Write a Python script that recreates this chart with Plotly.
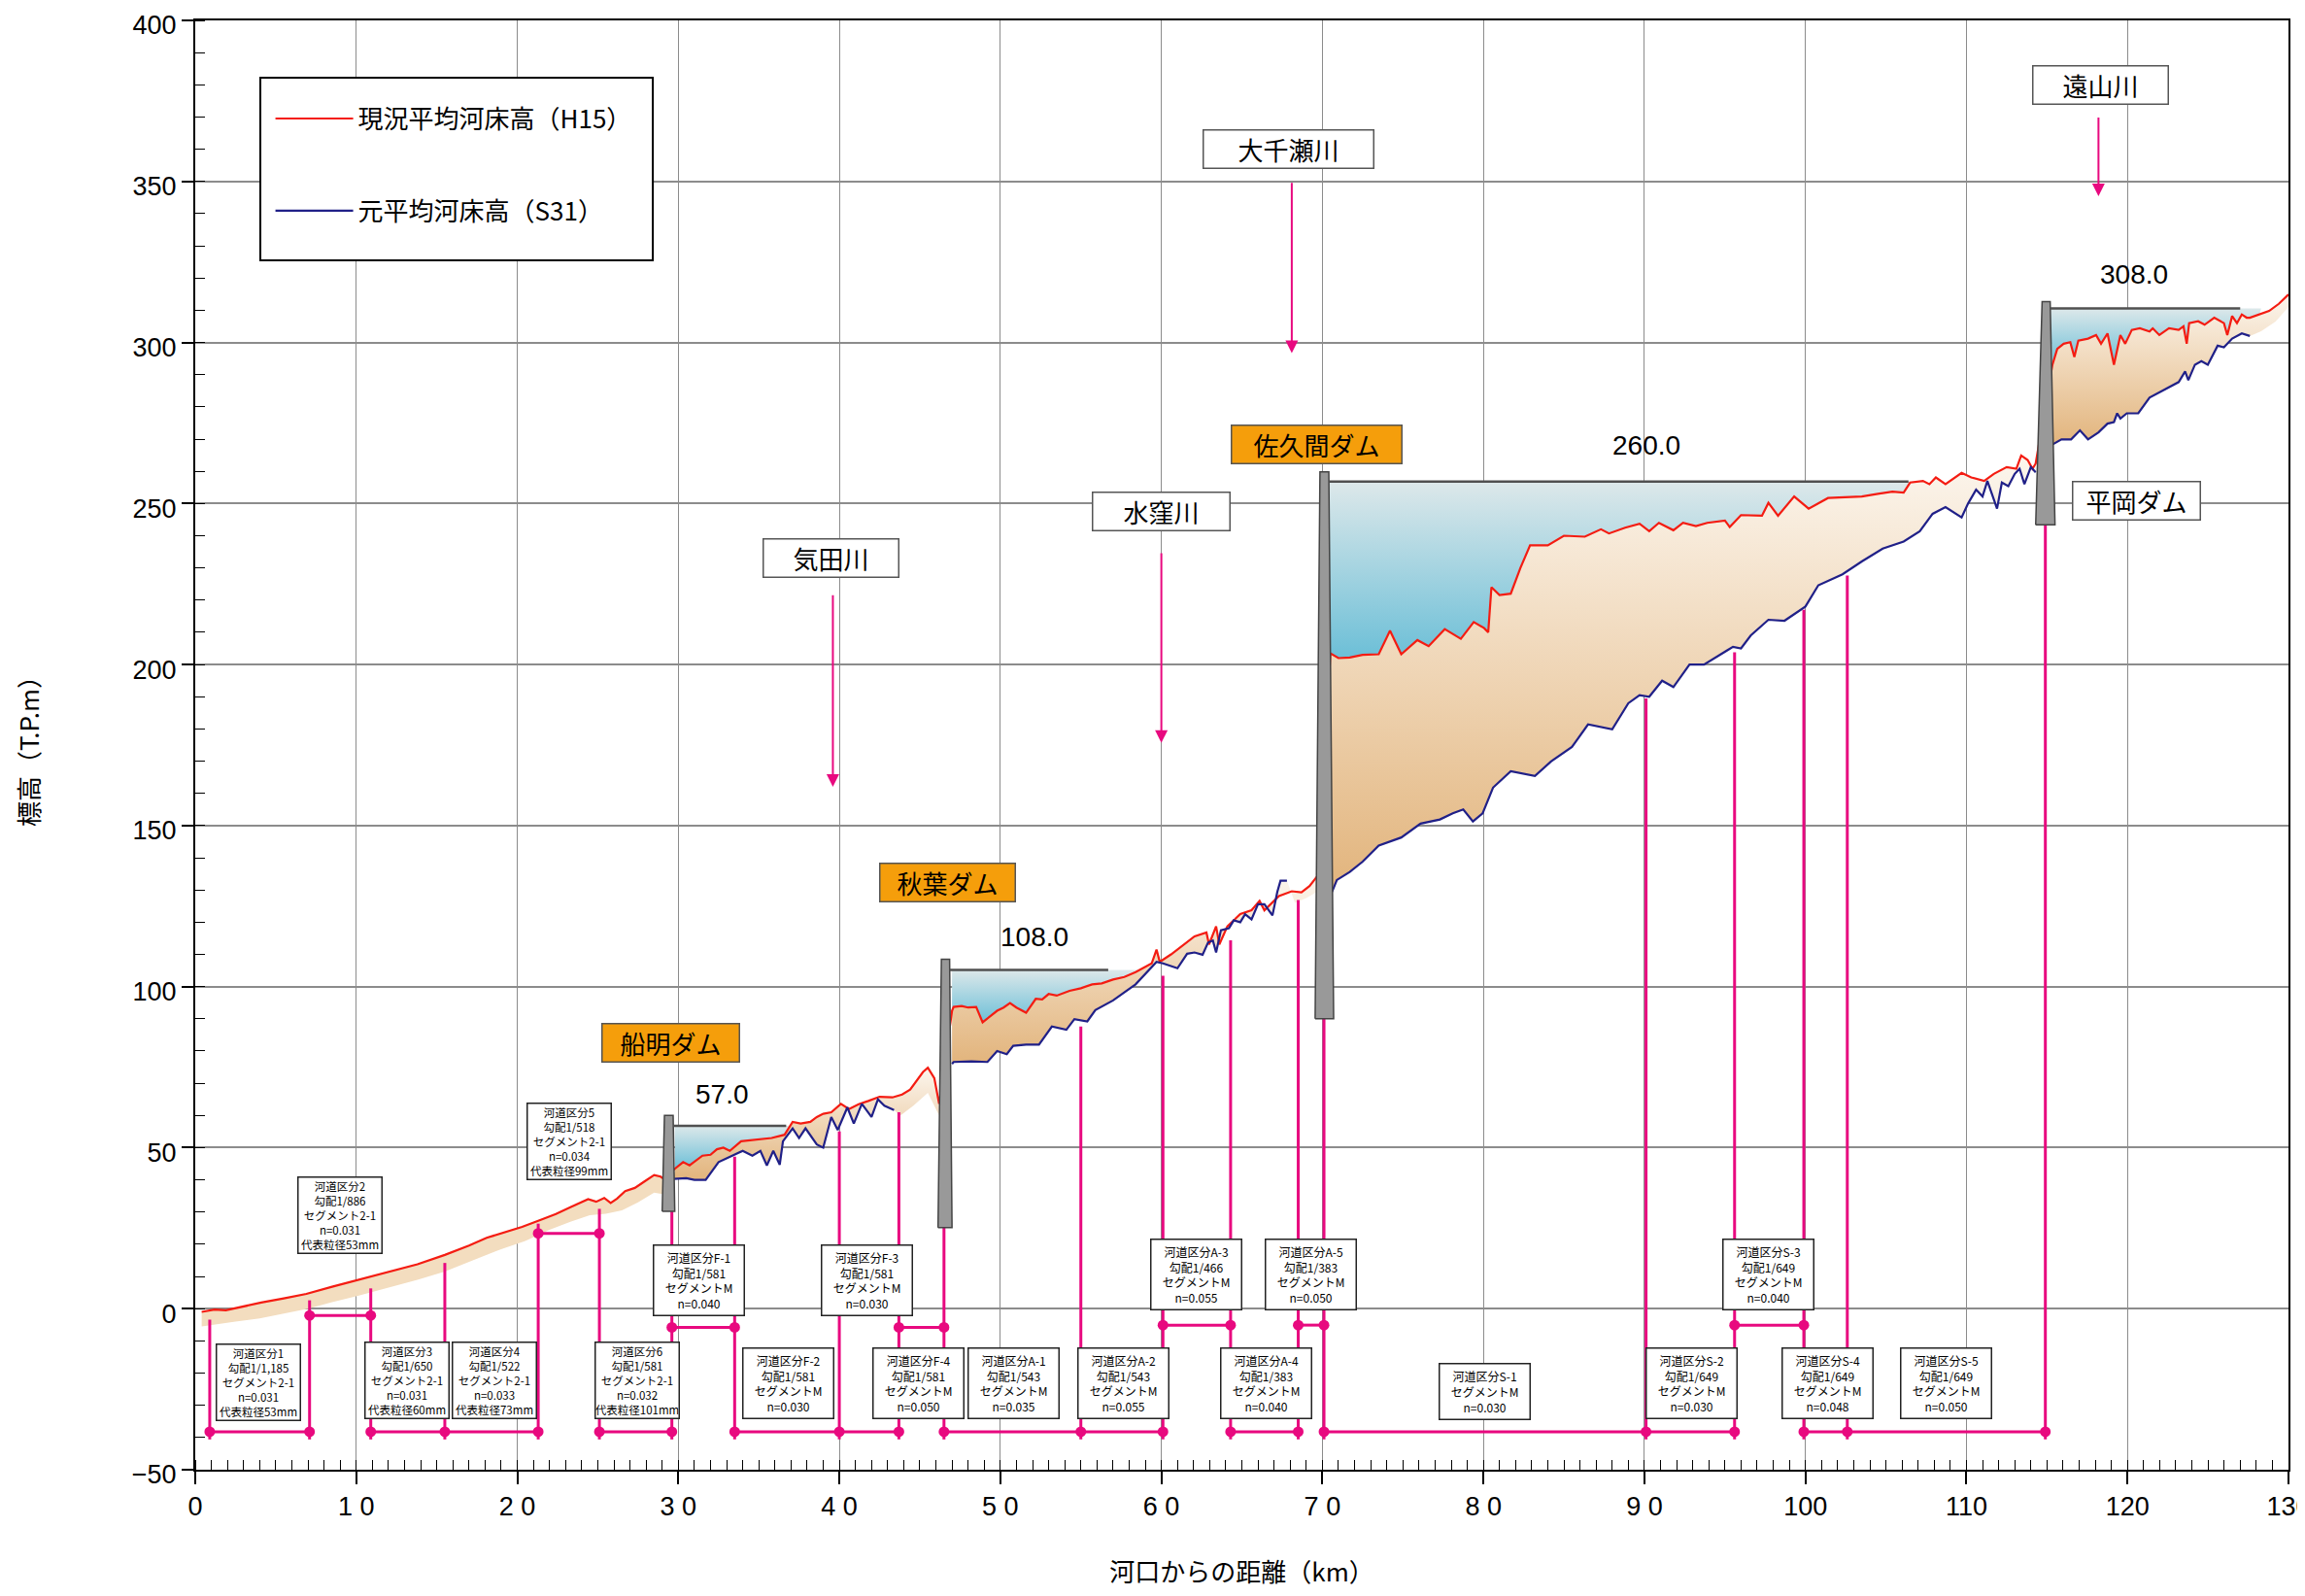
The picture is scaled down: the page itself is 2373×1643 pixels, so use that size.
import plotly.graph_objects as go

# ---------------- data ----------------
RED_X = [0.4, 1.2, 1.9, 3.0, 4.1, 5.5, 6.9, 8.5, 10.1, 12.0, 13.8, 15.5, 17.0, 18.1, 19.2, 20.3, 21.3, 22.4, 23.3,
         24.1, 24.4, 24.9, 25.4, 25.8, 26.2, 26.7, 27.3, 27.9, 28.5, 28.9, 29.1,
         29.8, 30.3, 30.7, 31.2, 31.5, 32.0, 32.4, 32.8, 33.2, 33.9, 34.5, 35.2, 35.8, 36.6, 37.1, 37.6, 38.2, 38.6,
         39.0, 39.5, 40.1, 40.6, 41.2, 41.8, 42.5, 43.3, 43.9, 44.4, 44.8, 45.2, 45.5, 45.9, 46.2,
         47.0, 47.1, 47.6, 48.0, 48.5, 48.9, 49.3, 49.8, 50.2, 50.6, 51.0, 51.6, 52.2, 52.6, 53.0, 53.5, 54.3, 55.0,
         55.7, 56.3, 57.0, 57.7, 58.4, 59.0, 59.4, 59.7, 59.9, 60.6, 61.3, 62.06, 62.8, 62.96, 63.4, 63.6, 64.1,
         64.9, 65.6, 66.1, 66.4, 66.9, 67.3, 68.1, 68.7, 69.2, 69.7,
         70.5, 71.0, 71.7, 72.5, 73.5, 74.2, 74.9, 75.9, 76.6, 77.6, 78.6, 79.4, 80.05, 80.3, 80.5, 81.0, 81.7, 82.3,
         82.9, 84.0, 85.0, 86.3, 87.3, 87.8, 88.8, 89.7, 90.3, 90.9, 91.8, 92.4, 93.2, 93.9, 95.0, 95.3, 96.0, 97.3,
         97.7, 98.3, 99.3, 100.2, 101.4, 102.5, 103.5, 104.5, 105.4, 106.1, 106.5, 107.3, 107.7, 108.1, 108.7, 109.7,
         110.3, 111.1, 111.7, 112.5, 113.1, 113.4, 113.8, 114.1, 114.3,
         115.34, 115.64, 116.04, 116.45, 116.7, 116.95, 117.55, 118.05, 118.36, 118.76, 119.16, 119.56, 119.86,
         120.27, 120.77, 121.37, 121.57, 121.98, 122.58, 123.18, 123.48, 123.68, 123.83, 124.39, 124.79, 125.39,
         125.99, 126.2, 126.5, 126.8, 127.1, 127.4, 127.6, 128.2, 128.8, 129.4, 130.0]
RED_Y = [-1.0, -0.3, -0.5, 0.8, 1.9, 3.2, 4.6, 6.8, 8.9, 11.3, 13.8, 16.7, 19.6, 22.0, 23.8, 25.4, 27.3, 29.4, 31.5,
         33.5, 34.0, 33.2, 34.4, 32.8, 34.2, 36.5, 37.5, 39.5, 41.5, 41.0, 40.3,
         43.5, 45.5, 44.5, 46.5, 47.5, 47.8, 49.5, 50.0, 49.0, 52.0, 52.3, 52.5, 53.0, 54.0, 58.0, 57.5, 58.0, 59.5,
         60.5, 61.0, 63.6, 62.0, 63.5, 64.5, 65.8, 65.6, 66.5, 68.0, 70.6, 73.5, 74.8, 71.6, 63.6,
         92.5, 93.7, 94.0, 93.5, 93.7, 88.9, 90.5, 92.5, 93.5, 94.9, 93.5, 91.9, 96.2, 96.0, 97.7, 97.2, 98.7, 99.5,
         100.7, 101.0, 102.2, 103.0, 104.5, 106.0, 107.2, 111.5, 107.7, 110.0, 112.8, 115.6, 116.8, 113.1, 118.7, 113.1, 118.7,
         122.5, 123.7, 126.6, 123.7, 126.2, 128.1, 129.6, 129.3, 131.2, 134.4,
         203.5, 202.0, 202.2, 203.0, 203.2, 210.5, 203.2, 207.6, 205.7, 211.0, 208.0, 213.2, 211.3, 210.0, 224.0, 221.6, 222.0, 230.0,
         237.0, 237.0, 240.0, 239.7, 242.0, 240.7, 242.5, 243.7, 241.4, 244.0, 241.7, 244.0, 243.0, 244.0, 244.7, 242.7, 246.4, 246.2,
         250.2, 246.2, 252.2, 248.4, 251.7, 252.0, 252.2, 253.0, 253.7, 253.4, 256.5, 257.0, 256.0, 258.1, 256.0, 259.5,
         258.1, 257.0, 259.2, 261.3, 260.8, 264.9, 263.5, 260.8, 262.4,
         293.1, 298.0, 299.6, 300.1, 295.5, 300.6, 301.2, 302.3, 299.6, 302.8, 293.1, 302.3, 299.6,
         303.9, 304.4, 303.4, 304.4, 302.3, 304.4, 303.9, 305.0, 299.6, 306.0, 306.6, 305.5, 307.7,
         306.0, 302.3, 308.2, 306.0, 308.7, 307.7, 307.7, 308.7, 309.8, 312.0, 314.9]

BLUE_F_X = [29.7, 30.5, 31.0, 31.7, 32.5, 33.4, 34.0, 34.6, 35.1, 35.5, 35.9, 36.3, 36.5, 37.1, 37.5, 37.9, 38.6, 39.0,
            39.5, 39.9, 40.5, 40.9, 41.4, 42.0, 42.4, 42.8, 43.4]
BLUE_F_Y = [40.3, 40.5, 40.0, 40.0, 45.5, 47.5, 49.0, 47.5, 49.0, 44.5, 49.0, 44.7, 52.0, 56.0, 53.0, 56.0, 51.0, 50.0,
            59.5, 55.5, 62.5, 57.5, 63.6, 59.5, 65.0, 63.0, 61.7]
BLUE_A_X = [47.0, 47.1, 48.2, 49.2, 49.8, 50.4, 50.8, 51.6, 52.4, 53.2, 54.1, 54.6, 55.4, 55.9, 57.0, 58.4, 59.7, 60.1,
            61.0, 61.6, 62.06, 62.56, 62.9, 63.2, 63.4, 63.7, 64.2, 64.5, 64.9, 65.2, 65.6, 66.0, 66.4, 66.7, 66.9,
            67.2, 67.4, 67.8]
BLUE_A_Y = [76.0, 76.6, 76.8, 76.6, 80.0, 79.0, 81.6, 82.0, 82.0, 87.6, 86.6, 89.9, 89.2, 92.7, 95.7, 100.7, 107.7, 107.2,
            105.7, 110.2, 110.6, 109.9, 113.7, 114.3, 110.6, 117.5, 118.1, 120.6, 120.0, 122.5, 120.9, 125.6, 125.6, 123.7, 122.1,
            129.4, 132.9, 132.9]
BLUE_S_X = [70.6, 70.9, 71.7, 72.5, 73.5, 74.9, 76.1, 77.3, 78.1, 78.75, 79.35, 79.95, 80.6, 81.7, 83.2, 84.2, 85.5,
            86.5, 88.0, 89.0, 89.7, 90.3, 91.1, 91.8, 92.8, 93.7, 95.5, 96.0, 96.6, 97.7, 98.7, 100.0, 100.8, 102.3,
            103.5, 104.8, 106.1, 107.1, 107.9, 108.7, 109.7, 110.1, 110.6, 111.0, 111.3, 111.9, 112.2, 112.6, 113.0,
            113.3, 113.6, 114.0, 114.3]
BLUE_S_Y = [129.4, 133.1, 135.6, 138.8, 143.8, 146.3, 150.6, 151.9, 153.8, 155.0, 151.3, 153.8, 161.8, 166.9, 165.4, 169.9, 174.4,
            181.4, 179.9, 188.0, 190.5, 190.0, 195.0, 193.0, 200.0, 200.0, 205.5, 205.0, 209.0, 213.9, 213.6, 218.0, 224.6, 228.0,
            232.0, 236.0, 238.2, 241.4, 246.8, 248.9, 245.7, 250.0, 254.3, 252.2, 257.0, 248.4, 256.5, 255.4, 259.2,
            260.8, 256.0, 261.3, 259.7]
BLUE_H_X = [115.34, 115.9, 116.5, 117.05, 117.55, 118.2, 118.76, 119.16, 119.36, 119.56, 119.96, 120.67, 121.37, 122.18,
            122.78, 123.18, 123.58, 123.78, 124.19, 124.59, 124.99, 125.6, 125.99, 126.5, 127.1, 127.6]
BLUE_H_Y = [268.3, 269.9, 269.9, 272.7, 269.9, 272.1, 274.8, 275.3, 278.0, 276.4, 278.0, 278.0, 282.9, 285.0,
            286.7, 287.7, 291.0, 288.3, 293.1, 294.2, 293.1, 299.0, 298.5, 301.2, 302.8, 302.0]

# sediment band bottoms where no old-bed line exists
BAND_LOW_X = [29.1, 28.5, 27.5, 26.5, 25.5, 24.5, 23.3, 22.0, 20.5, 19.0, 17.5, 15.5, 13.8, 12.0, 10.1, 8.5, 7.0, 5.5, 4.0, 2.5, 1.2, 0.4]
BAND_LOW_Y = [35.5, 36.0, 33.0, 30.5, 29.5, 29.0, 27.0, 24.5, 21.0, 18.5, 15.5, 11.5, 9.0, 6.5, 4.0, 2.0, 0.0, -1.5, -3.0, -4.0, -5.0, -5.5]
FUNA_TAIL_X = [46.2, 45.5, 44.6, 43.8]
FUNA_TAIL_Y = [60.0, 67.0, 63.0, 60.0]
AKI_TAIL_X = [69.7, 69.0, 68.3]
AKI_TAIL_Y = [129.5, 127.5, 126.0]
HIRA_TAIL_X = [130.0, 129.2, 128.3]
HIRA_TAIL_Y = [311.0, 306.5, 303.5]

# reservoirs
DAM_NAMES = ["船明ダム", "秋葉ダム", "佐久間ダム", "平岡ダム"]
WATER_LEVEL = [56.8, 105.2, 256.8, 310.6]
WATER_START = [29.78, 47.0, 70.4, 115.2]
WATER_LINE_END = [36.7, 56.7, 106.4, 127.0]
WATER_FILL_END = [36.9, 58.7, 107.2, 128.3]
LEVEL_LABELS = ["57.0", "108.0", "260.0", "308.0"]
LEVEL_LABEL_X = [32.7, 52.1, 90.1, 120.4]
LEVEL_LABEL_Y = [66.6, 115.5, 268.0, 321.0]

DAM_BASE_L = [29.0, 46.13, 69.55, 114.3]
DAM_BASE_R = [29.78, 47.0, 70.7, 115.5]
DAM_TOP_L = [29.14, 46.34, 69.85, 114.7]
DAM_TOP_R = [29.68, 46.85, 70.4, 115.2]
DAM_BOTTOM = [30.2, 25.2, 90.0, 243.4]
DAM_CREST = [60.0, 108.5, 259.8, 312.7]
DAM_LABEL_X = [29.55, 46.7, 69.65, 120.55]
DAM_LABEL_Y = [82.5, 132.4, 268.5, 251.0]

TRIB_NAMES = ["気田川", "水窪川", "大千瀬川", "遠山川"]
TRIB_X = [39.5, 60.0, 67.9, 118.3]
TRIB_LABEL_Y = [233.0, 247.4, 360.0, 380.0]
TRIB_ARROW_X = [39.6, 60.0, 68.1, 118.2]
TRIB_ARROW_FROM = [222.0, 235.0, 350.0, 370.3]
TRIB_ARROW_TO = [162.0, 175.7, 296.7, 345.4]

# river section division diagram
PINK_V_X = [0.9, 7.1, 10.9, 15.5, 21.3, 25.1, 29.6, 33.5, 40.0, 43.7, 46.5, 55.0, 60.1, 64.3, 68.5, 70.1, 90.1, 95.6, 99.9, 102.6, 114.9]
PINK_V_TOP = [-3.4, 2.6, 6.3, 14.2, 26.4, 31.0, 30.2, 47.2, 55.0, 61.0, 25.2, 87.6, 103.4, 114.4, 126.9, 90.0, 189.5, 203.8, 217.0, 227.6, 243.4]
PINK_BASE_Y = -38.2
PINK_BOTTOM_SEG = [(0.9, 7.1), (10.9, 21.3), (25.1, 29.6), (33.5, 43.7), (46.5, 60.1), (64.3, 68.5), (70.1, 95.6), (99.9, 114.9)]
PINK_UPPER_SEG = [(7.1, 10.9, -2.1), (21.3, 25.1, 23.4), (29.6, 33.5, -5.8), (43.7, 46.5, -5.8),
                  (60.1, 64.3, -5.1), (68.5, 70.1, -5.1), (95.6, 99.9, -5.1)]

SEC_TEXT = [
    "河道区分1<br>勾配1/1,185<br>セグメント2-1<br>n=0.031<br>代表粒径53mm",
    "河道区分2<br>勾配1/886<br>セグメント2-1<br>n=0.031<br>代表粒径53mm",
    "河道区分3<br>勾配1/650<br>セグメント2-1<br>n=0.031<br>代表粒径60mm",
    "河道区分4<br>勾配1/522<br>セグメント2-1<br>n=0.033<br>代表粒径73mm",
    "河道区分5<br>勾配1/518<br>セグメント2-1<br>n=0.034<br>代表粒径99mm",
    "河道区分6<br>勾配1/581<br>セグメント2-1<br>n=0.032<br>代表粒径101mm",
    "河道区分F-1<br>勾配1/581<br>セグメントM<br>n=0.040",
    "河道区分F-2<br>勾配1/581<br>セグメントM<br>n=0.030",
    "河道区分F-3<br>勾配1/581<br>セグメントM<br>n=0.030",
    "河道区分F-4<br>勾配1/581<br>セグメントM<br>n=0.050",
    "河道区分A-1<br>勾配1/543<br>セグメントM<br>n=0.035",
    "河道区分A-2<br>勾配1/543<br>セグメントM<br>n=0.055",
    "河道区分A-3<br>勾配1/466<br>セグメントM<br>n=0.055",
    "河道区分A-4<br>勾配1/383<br>セグメントM<br>n=0.040",
    "河道区分A-5<br>勾配1/383<br>セグメントM<br>n=0.050",
    "河道区分S-1<br>セグメントM<br>n=0.030",
    "河道区分S-2<br>勾配1/649<br>セグメントM<br>n=0.030",
    "河道区分S-3<br>勾配1/649<br>セグメントM<br>n=0.040",
    "河道区分S-4<br>勾配1/649<br>セグメントM<br>n=0.048",
    "河道区分S-5<br>勾配1/649<br>セグメントM<br>n=0.050",
]
SEC_X = [3.95, 9.0, 13.15, 18.55, 23.2, 27.45, 31.3, 36.8, 41.7, 44.9, 50.8, 57.65, 62.15, 66.5, 69.3,
         80.1, 92.95, 97.7, 101.35, 108.75]
SEC_Y = [-23.0, 28.9, -22.1, -22.1, 52.0, -22.1, 8.9, -23.3, 8.9, -23.3, -23.3, -23.3, 10.6, -23.3, 10.6,
         -25.6, -23.3, 10.6, -23.3, -23.3]

X_TICKS = list(range(0, 131, 10))
X_TICK_TEXT = ["0", "1 0", "2 0", "3 0", "4 0", "5 0", "6 0", "7 0", "8 0", "9 0", "100", "110", "120", "130"]

# ---------------- styles ----------------
RED = "#F41C12"
BLUE = "#202088"
PINK = "#E8097F"
NUM_FONT = "Liberation Sans, Arial, Noto Sans CJK JP"
JP_FONT = "Noto Sans CJK JP, Liberation Sans"
SED_SCALE = [[0, "#E2B47C"], [1, "#FCF6EE"]]
WATER_SCALE = [[0, "#6CBFD7"], [1, "#DDE8EA"]]


def seg(xs, ys, a, b):
    px, py = [], []
    for x, y in zip(xs, ys):
        if x is not None and a <= x <= b:
            px.append(x)
            py.append(y)
    return px, py


fig = go.Figure()

# sediment fills
sed_polys = []
tx, ty = seg(RED_X, RED_Y, 0.0, 29.2)
sed_polys.append((tx + BAND_LOW_X, ty + BAND_LOW_Y))
tx, ty = seg(RED_X, RED_Y, 29.7, 46.3)
sed_polys.append((tx + FUNA_TAIL_X + BLUE_F_X[::-1], ty + FUNA_TAIL_Y + BLUE_F_Y[::-1]))
tx, ty = seg(RED_X, RED_Y, 46.9, 69.8)
sed_polys.append((tx + AKI_TAIL_X + BLUE_A_X[::-1], ty + AKI_TAIL_Y + BLUE_A_Y[::-1]))
tx, ty = seg(RED_X, RED_Y, 70.4, 114.4)
sed_polys.append((tx + BLUE_S_X[::-1], ty + BLUE_S_Y[::-1]))
tx, ty = seg(RED_X, RED_Y, 115.3, 130.0)
sed_polys.append((tx + HIRA_TAIL_X + BLUE_H_X[::-1], ty + HIRA_TAIL_Y + BLUE_H_Y[::-1]))

for i, (px, py) in enumerate(sed_polys):
    if i == 0:
        fig.add_trace(go.Scatter(x=px, y=py, mode="lines", fill="toself", fillcolor="#F3DDBF",
                                 line=dict(width=0), hoverinfo="skip", showlegend=False))
    else:
        fig.add_trace(go.Scatter(x=px, y=py, mode="lines", fill="toself",
                                 fillgradient=dict(type="vertical", colorscale=SED_SCALE),
                                 line=dict(width=0), hoverinfo="skip", showlegend=False))

# water fills
for lvl, a, b in zip(WATER_LEVEL, WATER_START, WATER_FILL_END):
    rx, ry = seg(RED_X, RED_Y, a, b)
    px = [a, b] + rx[::-1]
    py = [lvl, lvl] + ry[::-1]
    fig.add_trace(go.Scatter(x=px, y=py, mode="lines", fill="toself",
                             fillgradient=dict(type="vertical", colorscale=WATER_SCALE),
                             line=dict(width=0), hoverinfo="skip", showlegend=False))

# pink division diagram
lx, ly = [], []
for x, top in zip(PINK_V_X, PINK_V_TOP):
    lx += [x, x, None]
    ly += [top, -40.6, None]
for a, b in PINK_BOTTOM_SEG:
    lx += [a, b, None]
    ly += [PINK_BASE_Y, PINK_BASE_Y, None]
for a, b, yv in PINK_UPPER_SEG:
    lx += [a, b, None]
    ly += [yv, yv, None]
fig.add_trace(go.Scatter(x=lx, y=ly, mode="lines", line=dict(color=PINK, width=3),
                         hoverinfo="skip", showlegend=False))
dx = list(PINK_V_X) + [v for s in PINK_UPPER_SEG for v in (s[0], s[1])]
dy = [PINK_BASE_Y] * len(PINK_V_X) + [v for s in PINK_UPPER_SEG for v in (s[2], s[2])]
fig.add_trace(go.Scatter(x=dx, y=dy, mode="markers", marker=dict(color=PINK, size=11),
                         hoverinfo="skip", showlegend=False))

# bed lines
fig.add_trace(go.Scatter(x=RED_X, y=RED_Y, mode="lines", line=dict(color=RED, width=2.2),
                         name="現況平均河床高（H15）", legendgroup="a"))
bx = BLUE_F_X + [None] + BLUE_A_X + [None] + BLUE_S_X + [None] + BLUE_H_X
by = BLUE_F_Y + [None] + BLUE_A_Y + [None] + BLUE_S_Y + [None] + BLUE_H_Y
fig.add_trace(go.Scatter(x=bx, y=by, mode="lines", line=dict(color=BLUE, width=2.2),
                         name="元平均河床高（S31）", legendgroup="b", connectgaps=False))

# dams
for bl, br, tl, tr, b0, c0 in zip(DAM_BASE_L, DAM_BASE_R, DAM_TOP_L, DAM_TOP_R, DAM_BOTTOM, DAM_CREST):
    fig.add_trace(go.Scatter(x=[bl, br, tr, tl, bl], y=[b0, b0, c0, c0, b0], mode="lines", fill="toself",
                             fillcolor="#999999", line=dict(color="#444444", width=1.5),
                             hoverinfo="skip", showlegend=False))

# water level lines
for lvl, a, b in zip(WATER_LEVEL, DAM_TOP_R, WATER_LINE_END):
    fig.add_trace(go.Scatter(x=[a, b], y=[lvl, lvl], mode="lines", line=dict(color="#505050", width=2.5),
                             hoverinfo="skip", showlegend=False))

annotations = []
for t, x, y in zip(LEVEL_LABELS, LEVEL_LABEL_X, LEVEL_LABEL_Y):
    annotations.append(dict(x=x, y=y, xref="x", yref="y", text=t, showarrow=False,
                            font=dict(family=NUM_FONT, size=28, color="black")))
for i, (t, x, y) in enumerate(zip(DAM_NAMES, DAM_LABEL_X, DAM_LABEL_Y)):
    hira = (i == 3)
    annotations.append(dict(x=x, y=y, xref="x", yref="y", text=t, showarrow=False,
                            font=dict(family=JP_FONT, size=26, color="black"),
                            bgcolor="white" if hira else "#F59E0B",
                            bordercolor="#555555", borderwidth=1.5,
                            width=[140, 138, 174, 130][i], height=38, borderpad=0))
for i, (t, x, y) in enumerate(zip(TRIB_NAMES, TRIB_X, TRIB_LABEL_Y)):
    annotations.append(dict(x=x, y=y, xref="x", yref="y", text=t, showarrow=False,
                            font=dict(family=JP_FONT, size=26, color="black"),
                            bgcolor="white", bordercolor="#555555", borderwidth=1.5,
                            width=[138, 140, 174, 138][i], height=38, borderpad=0))
for x, y0, y1 in zip(TRIB_ARROW_X, TRIB_ARROW_FROM, TRIB_ARROW_TO):
    annotations.append(dict(x=x, y=y1, ax=x, ay=y0, xref="x", yref="y", axref="x", ayref="y",
                            text="", showarrow=True, arrowhead=2, arrowsize=1.3, arrowwidth=2,
                            arrowcolor=PINK))
for t, x, y in zip(SEC_TEXT, SEC_X, SEC_Y):
    nlines = t.count("<br>") + 1
    h = {5: 77, 4: 71, 3: 56}[nlines]
    w = 85 if nlines == 5 else 92
    annotations.append(dict(x=x, y=y, xref="x", yref="y", text=t, showarrow=False,
                            font=dict(family=JP_FONT, size=11.5 if nlines == 5 else 12, color="black"),
                            bgcolor="white", bordercolor="#222222", borderwidth=1.5,
                            width=w, height=h, borderpad=0, align="center"))

fig.update_layout(
    width=2357, height=1627,
    margin=dict(l=193, r=9, t=13, b=122, autoexpand=False),
    paper_bgcolor="white", plot_bgcolor="white",
    font=dict(family=NUM_FONT, color="black"),
    annotations=annotations,
    shapes=[dict(type="rect", xref="paper", yref="paper", x0=0.0311, x1=0.2186, y0=0.8345, y1=0.9605,
                 fillcolor="white", line=dict(color="black", width=2), layer="above")],
    legend=dict(x=0.036, y=0.948, xanchor="left", yanchor="top", bgcolor="rgba(0,0,0,0)",
                borderwidth=0, font=dict(family=JP_FONT, size=26, color="black"),
                itemwidth=80, tracegroupgap=58, traceorder="grouped"),
    xaxis=dict(range=[0, 130], tickvals=X_TICKS, ticktext=X_TICK_TEXT, automargin=False,
               ticklabeloverflow="allow",
               ticks="outside", ticklen=13, tickwidth=1.5, tickcolor="black",
               showgrid=True, gridcolor="#8c8c8c", gridwidth=1.2,
               showline=True, linecolor="black", linewidth=2, mirror=True, zeroline=False,
               tickfont=dict(family=NUM_FONT, size=27, color="black"),
               minor=dict(tickmode="linear", tick0=0, dtick=1, ticks="inside", ticklen=10,
                          tickcolor="black", tickwidth=1.2, showgrid=False),
               title=dict(text="河口からの距離（km）", font=dict(family=JP_FONT, size=26, color="black"),
                          standoff=45)),
    yaxis=dict(range=[-50, 400], dtick=50, tick0=0, automargin=False,
               ticklabeloverflow="allow", ticklabelshift=5,
               ticks="outside", ticklen=12, tickwidth=1.5, tickcolor="black",
               showgrid=True, gridcolor="#8c8c8c", gridwidth=1.5,
               showline=True, linecolor="black", linewidth=2, mirror=True, zeroline=False,
               tickfont=dict(family=NUM_FONT, size=27, color="black"),
               minor=dict(dtick=10, ticks="inside", ticklen=10, tickcolor="black", tickwidth=1.2,
                          showgrid=False),
               title=dict(text="標高（T.P.m）", font=dict(family=JP_FONT, size=26, color="black"),
                          standoff=88)),
)

fig.write_html("out.html")
